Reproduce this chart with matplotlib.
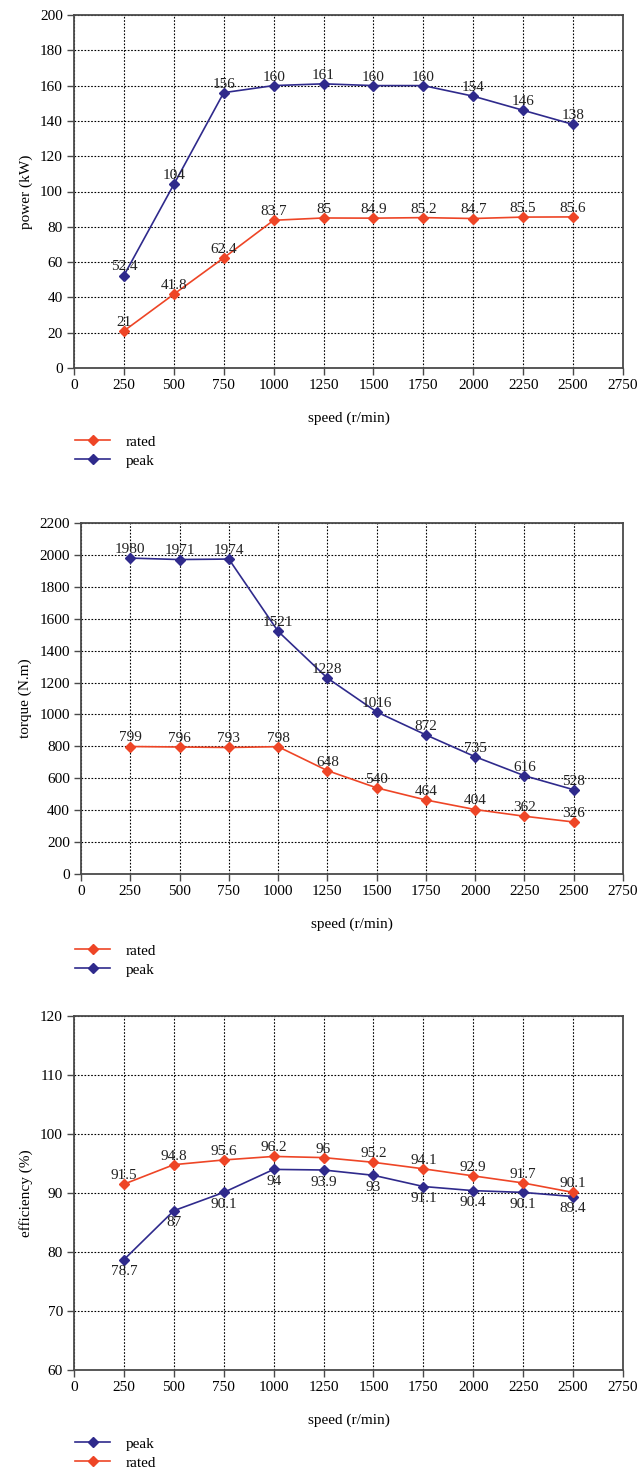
import matplotlib.pyplot as plt
import numpy as np

plt.rcParams['font.family'] = ['Liberation Serif', 'DejaVu Serif']
plt.rcParams['font.size'] = 11

speed = [250, 500, 750, 1000, 1250, 1500, 1750, 2000, 2250, 2500]

power_rated = [21, 41.8, 62.4, 83.7, 85, 84.9, 85.2, 84.7, 85.5, 85.6]
power_peak = [52.4, 104, 156, 160, 161, 160, 160, 154, 146, 138]

torque_rated = [799, 796, 793, 798, 648, 540, 464, 404, 362, 326]
torque_peak = [1980, 1971, 1974, 1521, 1228, 1016, 872, 735, 616, 528]

eff_peak = [78.7, 87, 90.1, 94, 93.9, 93, 91.1, 90.4, 90.1, 89.4]
eff_rated = [91.5, 94.8, 95.6, 96.2, 96, 95.2, 94.1, 92.9, 91.7, 90.1]

red = '#EE4526'
blue = '#2F2A8C'

W, H = 640, 1471
fig = plt.figure(figsize=(W / 100, H / 100), dpi=100)


def make_axes(left, top, right, bottom):
    return fig.add_axes([left / W, 1 - bottom / H, (right - left) / W, (bottom - top) / H])


def style(ax, ymax, ystep, ymin, ylabel):
    ax.set_xlim(0, 2750)
    ax.set_xticks(np.arange(0, 2751, 250))
    ax.set_ylim(ymin, ymax)
    ax.set_yticks(np.arange(ymin, ymax + 1, ystep))
    ax.grid(True, color='black', linestyle=(0, (1.5, 1.5)), linewidth=0.8)
    ax.set_axisbelow(True)
    for s in ax.spines.values():
        s.set_color('#4a4a4a')
        s.set_linewidth(1.3)
    ax.tick_params(direction='out', length=5, width=1, color='#4a4a4a', labelsize=11, pad=3)
    ax.set_xlabel('speed (r/min)', fontsize=11, labelpad=14)
    ax.set_ylabel(ylabel, fontsize=11, labelpad=5)


def plot_series(ax, y, color, label, below=False):
    ax.plot(speed, y, color=color, marker='D', markersize=5.5, linewidth=1.2, label=label)
    for x, v in zip(speed, y):
        txt = ('%g' % v)
        if below:
            ax.annotate(txt, (x, v), xytext=(0, -4), textcoords='offset points',
                        ha='center', va='top', fontsize=11, color='#222222')
        else:
            ax.annotate(txt, (x, v), xytext=(0, 1.5), textcoords='offset points',
                        ha='center', va='bottom', fontsize=11, color='#222222')


def legend(ax, top):
    ax.legend(loc='upper left', bbox_to_anchor=(75 / W, 1 - top / H), bbox_transform=fig.transFigure,
              frameon=False, fontsize=11, handlelength=2.3, handletextpad=1.0,
              labelspacing=0.35, borderpad=0, borderaxespad=0)


# power
ax1 = make_axes(74, 15, 623, 368)
plot_series(ax1, power_rated, red, 'rated')
plot_series(ax1, power_peak, blue, 'peak')
style(ax1, 200, 20, 0, 'power (kW)')
legend(ax1, 435)

# torque
ax2 = make_axes(81, 523, 623, 874)
plot_series(ax2, torque_rated, red, 'rated')
plot_series(ax2, torque_peak, blue, 'peak')
style(ax2, 2200, 200, 0, 'torque (N.m)')
legend(ax2, 944)

# efficiency
ax3 = make_axes(74, 1016, 623, 1370)
plot_series(ax3, eff_peak, blue, 'peak', below=True)
plot_series(ax3, eff_rated, red, 'rated')
style(ax3, 120, 10, 60, 'efficiency (%)')
legend(ax3, 1437)

fig.savefig('out.png', dpi=100)
